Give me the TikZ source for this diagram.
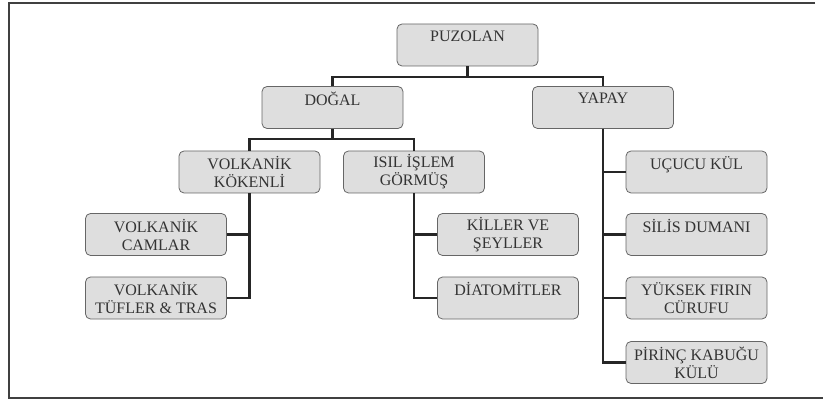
\documentclass[tikz,border=0pt]{standalone}
\usepackage{fontspec}
\setmainfont{Liberation Serif}
\begin{document}
\begin{tikzpicture}[x=1pt,y=-1pt,
  box/.style={draw=black!60, line width=0.8pt, fill=black!13, rounded corners=5pt,
    minimum width=141pt, minimum height=42pt, inner sep=1pt, align=center,
    text=black!80, font=\fontsize{16}{18}\selectfont},
  conn/.style={draw=black!85, line width=2.8pt},
  frame/.style={draw=black!75, line width=1.8pt}]
\useasboundingbox (0,0) rectangle (823,401);
% frame
\draw[frame] (815,3) -- (9,3) -- (9,398) -- (823,398);
% nodes
\node[box] (puz)    at (467.5,45)   {PUZOLAN\\\mbox{}};
\node[box] (dogal)  at (332.5,107.5) {DOĞAL\\\mbox{}};
\node[box] (yapay)  at (603,107.5)  {YAPAY\\\mbox{}};
\node[box] (vk)     at (249.5,172)  {VOLKANİK\\KÖKENLİ};
\node[box] (isil)   at (414,172)    {ISIL İŞLEM\\GÖRMÜŞ};
\node[box] (ucucu)  at (696.5,172)  {UÇUCU KÜL\\\mbox{}};
\node[box] (vc)     at (156,234.5)  {VOLKANİK\\CAMLAR};
\node[box] (vt)     at (156,298)    {VOLKANİK\\TÜFLER \& TRAS};
\node[box] (killer) at (508,234.5)  {KİLLER VE\\ŞEYLLER};
\node[box] (diat)   at (508,298)    {DİATOMİTLER\\\mbox{}};
\node[box] (silis)  at (696.5,234.5){SİLİS DUMANI\\\mbox{}};
\node[box] (yuksek) at (696.5,298)  {YÜKSEK FIRIN\\CÜRUFU};
\node[box] (pirinc) at (696.5,362.5){PİRİNÇ KABUĞU\\KÜLÜ};
% junction levels
\coordinate (j1) at (0,77);
\coordinate (j2) at (0,139);
% connectors
\draw[conn] (puz.south) -- (puz.south |- j1);
\draw[conn] (dogal.north) -- (dogal.north |- j1) -- (yapay.north |- j1) -- (yapay.north);
\draw[conn] (dogal.south) -- (dogal.south |- j2);
\draw[conn] (vk.north) -- (vk.north |- j2) -- (isil.north |- j2) -- (isil.north);
\draw[conn] (vk.south) |- (vc.east);
\draw[conn] (vk.south) |- (vt.east);
\draw[conn] (isil.south) |- (killer.west);
\draw[conn] (isil.south) |- (diat.west);
\draw[conn] (yapay.south) |- (ucucu.west);
\draw[conn] (yapay.south) |- (silis.west);
\draw[conn] (yapay.south) |- (yuksek.west);
\draw[conn] (yapay.south) |- (pirinc.west);
\end{tikzpicture}
\end{document}
